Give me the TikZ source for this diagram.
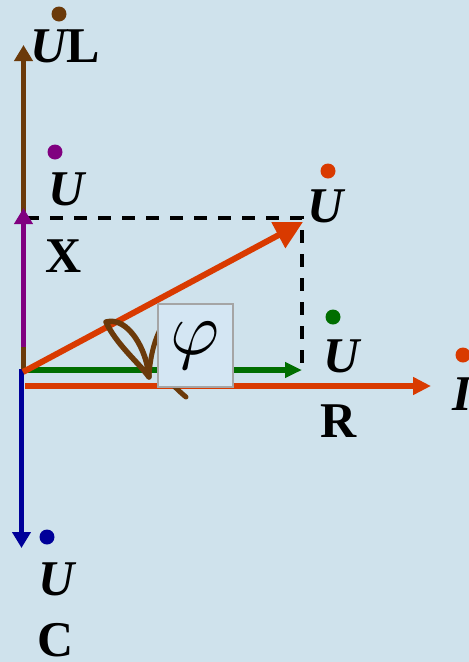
\documentclass[tikz,border=0pt]{standalone}
\usepackage{fontspec}
\setmainfont{Liberation Serif}
\usetikzlibrary{arrows.meta}
\definecolor{bg}{RGB}{207,226,236}
\definecolor{boxfill}{RGB}{212,230,243}
\definecolor{boxline}{RGB}{165,165,165}
\definecolor{cbrown}{RGB}{107,58,10}
\definecolor{cpurple}{RGB}{128,0,128}
\definecolor{cblue}{RGB}{0,0,153}
\definecolor{cred}{RGB}{217,58,0}
\definecolor{cgreen}{RGB}{0,110,0}
\tikzset{
  vec/.style={line width=5pt,-{Triangle[length=16pt,width=18pt]}},
  dashline/.style={line width=4pt,black,dash pattern=on 13pt off 11pt},
  lbl/.style={inner sep=0pt,anchor=base west,font=\fontsize{50}{50}\selectfont\bfseries},
  dotmark/.style={circle,inner sep=0pt,minimum size=15pt},
}
\begin{document}
\begin{tikzpicture}[x=1pt,y=-1pt]
\fill[bg] (0,0) rectangle (469,662);
\useasboundingbox (0,0) rectangle (469,662);
\clip (0,0) rectangle (469,662);
% coordinates
\coordinate (O) at (23.5,372);
\coordinate (Lend) at (23.5,45);
\coordinate (Xstart) at (23.5,347);
\coordinate (Xend) at (23.5,208);
\coordinate (Cstart) at (21.5,369);
\coordinate (Cend) at (21.5,548);
\coordinate (Rstart) at (25,370);
\coordinate (Rend) at (302,370);
\coordinate (Istart) at (25,386);
\coordinate (Iend) at (431,386);
\coordinate (Ustart) at (23,372);
\coordinate (Uend) at (303,222);
\coordinate (D1) at (26,218);
\coordinate (D2) at (302,218);
\coordinate (D3) at (302,370);
% dashed projections
\draw[dashline] (D1) -- (D2) -- (D3);
% vectors
\draw[vec,cbrown] (O) -- (Lend);
\draw[vec,cpurple] (Xstart) -- (Xend);
\draw[vec,cblue] (Cstart) -- (Cend);
\draw[vec,cgreen,line width=6pt,-{Triangle[length=17pt,width=15pt]}] (Rstart) -- (Rend);
\draw[vec,cred,line width=6pt,-{Triangle[length=18pt,width=17pt]}] (Istart) -- (Iend);
\draw[vec,cred,line width=6pt,-{Triangle[length=28pt,width=28pt]}] (Ustart) -- (Uend);
% angle scribble
\draw[cbrown,line width=5.5pt,line cap=round,line join=round]
  (106,322) .. controls (128,316) and (147,350) .. (149,377)
  .. controls (138,362) and (116,344) .. (106,322);
\draw[cbrown,line width=5pt,line cap=round]
  (149,377) .. controls (150,356) and (155,338) .. (162,326);
\draw[cbrown,line width=5pt,line cap=round]
  (172,384) .. controls (177,389) and (181,393) .. (186,397);
% phi box
\node[draw=boxline,fill=boxfill,line width=1.5pt,minimum width=75pt,minimum height=83pt,inner sep=0pt]
  (phi) at (195.5,345.5) {\scalebox{7.5}{$\varphi$}};
% labels
\node[dotmark,fill=cbrown] (dL) at (59,14) {};
\node[lbl] (UL) at (30,62) {\itshape U\upshape L};
\node[dotmark,fill=cpurple] (dX) at (55,152) {};
\node[lbl] (UX) at (48,205) {\itshape U};
\node[lbl] (X) at (45,272) {X};
\node[dotmark,fill=cred] (dU) at (328,171) {};
\node[lbl] (U) at (307,222) {\itshape U};
\node[dotmark,fill=cgreen] (dR) at (333,317) {};
\node[lbl] (UR) at (323,372) {\itshape U};
\node[lbl] (R) at (320,437) {R};
\node[dotmark,fill=cblue] (dC) at (47,537) {};
\node[lbl] (UC) at (38,595) {\itshape U};
\node[lbl] (C) at (37,656) {C};
\node[dotmark,fill=cred] (dI) at (463,355) {};
\node[lbl] (I) at (452,410) {\itshape I};
\end{tikzpicture}
\end{document}
